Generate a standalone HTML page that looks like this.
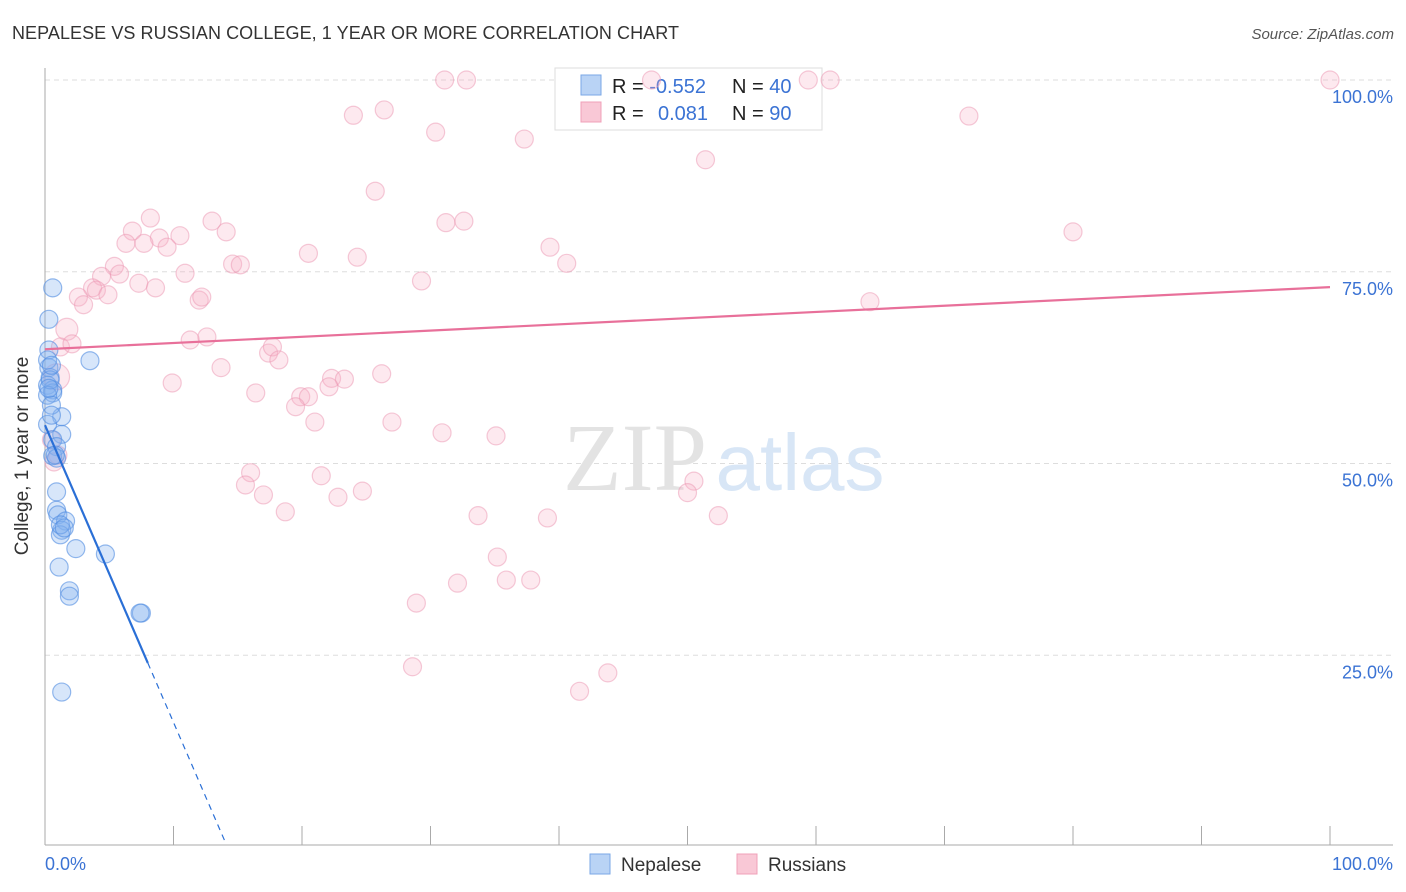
<!DOCTYPE html>
<html><head><meta charset="utf-8"><style>
body{margin:0;background:#fff;font-family:"Liberation Sans",sans-serif;}
svg{display:block}
</style></head><body>
<svg id="c" width="1406" height="892" xmlns="http://www.w3.org/2000/svg">
<text x="12" y="39" font-size="18" fill="#333" textLength="667">NEPALESE VS RUSSIAN COLLEGE, 1 YEAR OR MORE CORRELATION CHART</text>
<text x="1394" y="39" font-size="15" fill="#555" font-style="italic" text-anchor="end">Source: ZipAtlas.com</text>
<g id="grid"></g>
<g><text x="635" y="490" font-size="96" font-family="Liberation Serif,serif" fill="#e3e3e3" text-anchor="middle">ZIP</text><text x="800" y="490" font-size="80" fill="#d8e6f6" text-anchor="middle">atlas</text></g>
<g>
<rect x="555" y="68" width="267" height="62" fill="#fff" stroke="#ddd"/>
<rect x="581" y="75" width="20" height="20" fill="#b9d3f5" stroke="#7aa7e6"/>
<rect x="581" y="102" width="20" height="20" fill="#f9c8d6" stroke="#f0a0b8"/>
<text x="612" y="93" font-size="20" fill="#222">R = <tspan fill="#3b73d4">-0.552</tspan></text>
<text x="732" y="93" font-size="20" fill="#222">N = <tspan fill="#3b73d4">40</tspan></text>
<text x="612" y="120" font-size="20" fill="#222">R = <tspan fill="#3b73d4" x="658">0.081</tspan></text>
<text x="732" y="120" font-size="20" fill="#222">N = <tspan fill="#3b73d4">90</tspan></text>
</g>
<g id="marks"></g>
<text x="28" y="456" font-size="19" fill="#333" text-anchor="middle" transform="rotate(-90 28 456)">College, 1 year or more</text>
<g>
<rect x="590" y="854" width="20" height="20" fill="#b9d3f5" stroke="#7aa7e6"/>
<text x="621" y="871" font-size="19" fill="#333">Nepalese</text>
<rect x="737" y="854" width="20" height="20" fill="#f9c8d6" stroke="#f0a0b8"/>
<text x="768" y="871" font-size="19" fill="#333">Russians</text>
</g>
</svg>
<script>
const blueX=[0.6,0.3,0.3,3.5,0.3,0.4,0.2,0.6,0.6,1.3,0.2,1.3,0.6,0.9,0.6,0.9,0.9,0.9,1.0,1.6,1.3,1.2,2.4,4.7,1.1,1.9,1.9,7.5,7.4,1.3,0.2,0.5,0.4,0.5,0.3,0.8,1.2,1.5,0.2,0.5];
const blueY=[72.9,68.8,64.8,63.4,62.5,61.2,60.2,59.6,59.2,56.1,55.1,53.8,53.1,52.2,51.0,50.7,46.3,43.9,43.3,42.5,41.3,40.7,38.9,38.2,36.5,33.4,32.7,30.5,30.5,20.2,58.9,57.6,60.9,56.3,59.8,51.1,42.0,41.6,63.5,62.8];
const pinkX=[31.1,32.8,47.2,59.4,61.1,100,24.0,26.4,71.9,30.4,37.3,51.4,25.7,8.2,13.0,31.2,32.6,6.8,14.1,10.5,8.9,6.3,7.7,9.5,20.5,24.3,39.3,14.6,15.2,40.6,80.0,5.4,5.8,4.4,10.9,7.3,29.3,3.7,4.0,8.6,4.9,2.6,3.0,12.0,12.2,64.2,1.7,1.2,2.1,11.3,12.6,17.4,17.7,18.2,13.7,26.2,9.9,0.9,22.3,23.3,22.1,16.4,19.9,20.5,19.5,21.0,27.0,30.9,35.1,0.5,1.0,0.7,16.0,15.6,17.0,21.5,22.8,24.7,50.5,50.0,18.7,33.7,39.1,52.4,35.2,35.9,37.8,32.1,28.9,28.6,41.6,43.8];
const pinkY=[100,100,100,100,100,100,95.4,96.1,95.3,93.2,92.3,89.6,85.5,82.0,81.6,81.4,81.6,80.3,80.2,79.7,79.4,78.7,78.7,78.2,77.4,76.9,78.2,76.0,75.9,76.1,80.2,75.7,74.7,74.4,74.8,73.5,73.8,72.9,72.6,72.9,72.0,71.7,70.7,71.3,71.7,71.1,67.5,65.2,65.6,66.1,66.5,64.4,65.2,63.5,62.5,61.7,60.5,61.3,61.1,61.0,60.0,59.2,58.7,58.7,57.4,55.4,55.4,54.0,53.6,53.1,51.1,50.2,48.8,47.2,45.9,48.4,45.6,46.4,47.7,46.2,43.7,43.2,42.9,43.2,37.8,34.8,34.8,34.4,31.8,23.5,20.3,22.7];
const bigPink={46:11,57:13};
const pinkTrend=[64.9,73.0];
const blueTrend=[55.0,-3.875];
const yTicks=[25,50,75,100];
const yTickLabels=["25.0%","50.0%","75.0%","100.0%"];
const NS="http://www.w3.org/2000/svg";
const X=v=>45+v*12.85, Y=v=>847-v*7.67;
const g=document.getElementById('grid'), m=document.getElementById('marks');
function mk(p,tag,a){const e=document.createElementNS(NS,tag);for(const k in a)e.setAttribute(k,a[k]);p.appendChild(e);return e;}
yTicks.forEach((t,i)=>{
 const l=mk(g,'line',{x1:45,x2:1393,y1:Y(t),y2:Y(t),stroke:'#ddd','stroke-dasharray':'5,4'});
 
 
 const tx=mk(g,'text',{x:1393,y:Y(t)+23,'font-size':18,fill:'#3b73d4','text-anchor':'end'});tx.textContent=yTickLabels[i];
 
 
});
const ax=mk(g,'line',{x1:45,x2:1393,y1:845,y2:845,stroke:'#aaa'});


const ay=mk(g,'line',{x1:45,x2:45,y1:68,y2:845,stroke:'#aaa'});


for(let i=1;i<=10;i++){const t=mk(g,'line',{x1:X(i*10),x2:X(i*10),y1:826,y2:845,stroke:'#aaa'});
 
 }
const x0=mk(g,'text',{x:45,y:870,'font-size':18,fill:'#3b73d4'});x0.textContent='0.0%';


const x1=mk(g,'text',{x:1393,y:870,'font-size':18,fill:'#3b73d4','text-anchor':'end'});x1.textContent='100.0%';


pinkX.forEach((v,i)=>{const c=mk(m,'circle',{cx:X(v),cy:Y(pinkY[i]),r:bigPink[i]||9,fill:'rgba(248,175,198,0.28)',stroke:'rgba(236,150,178,0.5)','stroke-width':1.2});
 
 });
blueX.forEach((v,i)=>{const c=mk(m,'circle',{cx:X(v),cy:Y(blueY[i]),r:9,fill:'rgba(130,178,238,0.32)',stroke:'rgba(80,140,225,0.6)','stroke-width':1.2});
 
 });
const pl=mk(m,'line',{x1:X(0),y1:Y(pinkTrend[0]),x2:X(100),y2:Y(pinkTrend[1]),stroke:'#e8709a','stroke-width':2.2});


const bl=mk(m,'line',{x1:X(0),y1:Y(blueTrend[0]),x2:X(8),y2:Y(blueTrend[0]+8*blueTrend[1]),stroke:'#2a6fd6','stroke-width':2.2});


const bd=mk(m,'line',{x1:X(8),y1:Y(blueTrend[0]+8*blueTrend[1]),x2:X(14),y2:Y(blueTrend[0]+14*blueTrend[1]),stroke:'#2a6fd6','stroke-width':1.2,'stroke-dasharray':'6,5'});


</script>
</body></html>
